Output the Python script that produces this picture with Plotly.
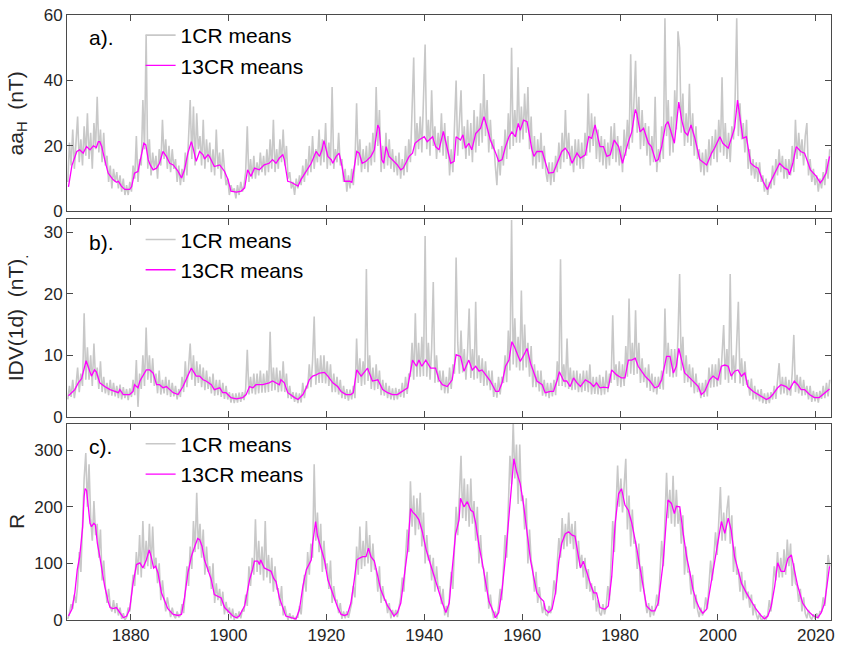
import plotly.graph_objects as go

# ---------------- data ----------------
# 13-rotation running means (year, value)
AA_T = [1867.3,1868.0,1869.0,1869.6,1870.3,1871.0,1871.7,1872.4,1873.0,1873.4,1873.7,1874.1,1874.7,1875.4,1876.4,1877.1,1877.5,1878.1,1878.8,1879.8,
        1880.2,1880.8,1881.5,1882.2,1882.7,1883.1,1883.6,1884.0,1884.6,1885.3,1885.9,1886.6,1887.3,1888.0,1888.7,1889.7,1890.4,1891.0,1891.7,1892.4,
        1892.7,1893.4,1894.1,1894.8,1895.1,1895.8,1896.1,1897.1,1898.2,1899.2,1899.9,1900.5,1901.6,1902.6,1903.3,1903.9,1904.6,1905.3,1906.3,1907.3,
        1908.3,1909.0,1909.7,1910.4,1911.1,1911.4,1912.1,1912.8,1913.8,1914.2,1914.8,1915.9,1916.9,1917.9,1918.6,1919.1,1919.5,1920.3,1921.0,1921.3,
        1922.0,1922.6,1923.2,1923.7,1924.7,1925.2,1926.2,1926.7,1927.3,1928.1,1929.1,1929.8,1930.5,1930.8,1931.3,1931.7,1932.2,1932.8,1933.8,1934.5,
        1935.2,1935.7,1936.2,1936.9,1937.6,1938.1,1938.9,1940.0,1940.6,1941.7,1942.3,1943.0,1943.9,1944.7,1945.4,1946.1,1946.5,1947.4,1947.9,1948.4,
        1949.1,1949.7,1950.5,1951.5,1952.2,1952.7,1953.5,1954.6,1955.2,1955.9,1956.6,1957.3,1957.9,1958.6,1959.2,1959.6,1960.3,1961.0,1962.0,1962.4,
        1963.0,1964.1,1964.7,1965.4,1966.4,1967.1,1967.6,1968.1,1968.8,1969.5,1970.2,1971.2,1971.9,1972.9,1973.6,1974.2,1974.9,1975.9,1976.6,1977.3,
        1978.0,1978.8,1979.7,1980.5,1981.7,1982.4,1983.1,1983.4,1984.1,1984.8,1985.8,1986.4,1987.3,1987.8,1988.5,1989.3,1989.8,1991.1,1992.0,1992.6,
        1993.2,1993.8,1994.5,1995.3,1996.3,1997.7,1998.7,1999.3,2000.4,2001.0,2002.1,2003.4,2004.0,2004.6,2005.1,2005.8,2006.7,2007.5,2008.2,2009.2,
        2010.1,2010.8,2011.6,2012.6,2013.6,2014.3,2014.6,2015.3,2016.0,2016.9,2017.7,2018.9,2020.1,2020.9,2021.4,2022.1,2022.8]
AA_V = [7.5,14,18.3,18.8,17.8,19.8,18.8,20,19.5,21.3,21.3,19.8,15.8,11.7,9.7,8.9,9.2,7.7,6.7,6.7,
        7.5,11.7,12.2,16.8,20.8,20.3,15.8,14.2,12.7,13.2,14.7,18.3,16.8,14.7,14.2,12.2,10.2,12.7,17.8,21.3,
        19.8,15.3,18.3,17.3,16,17.3,16.8,13.7,14.2,12.2,9.7,6.2,5.9,6.2,7.2,12.7,10.7,13.2,12.7,14.2,
        14.7,15.8,14.7,16.3,17.3,15.8,9.2,8.9,8.2,7.7,9.7,12.2,14.7,18.3,16.8,18.8,21.6,16.8,15.8,14.7,
        16.8,17.8,13.7,9.2,9.2,8.9,18.3,17.8,14.7,15.3,16.8,18.8,26.4,25.4,15.8,14.7,19.8,16.8,15.3,14.2,
        12.7,13.2,14.7,16.8,17.8,20.8,21.8,22.8,21.3,22.8,19.8,18.8,24.4,18.8,14.7,15.3,22.8,21.8,23.4,19.3,
        20.8,18.8,23.8,25.4,28.9,26.4,21.8,17.8,15.3,15.8,19.8,22.8,24.3,22.8,26.9,24.8,27.9,27.4,18.8,16.8,
        18.3,18.3,15.3,11.7,11.9,14.7,16.8,18.3,19.3,17.8,14.7,17.8,16.3,17.3,22.8,22.3,26.4,19.8,19.8,16.8,
        17.3,21.8,19.8,14.7,21.3,24.3,31.1,30,24.3,25.4,20.8,19.8,15.3,15.8,19.8,26.4,27.4,20.8,33.4,27.9,
        24.3,23.3,26.4,22.3,15.8,14.2,17.8,19.3,22.8,20.8,19.3,25.4,34.0,27.9,22.3,22.8,14.7,13.7,13.2,9.2,
        6.7,9.2,11.7,14.7,13.2,12.7,11.2,14.7,19.8,18.3,17.8,12.7,10.7,8.7,9.7,11.7,16.8]

IDV_T = [1867.3,1868.6,1869.3,1870.0,1870.9,1871.5,1872.0,1872.6,1873.0,1873.7,1874.7,1875.8,1876.8,1877.5,1877.8,1878.5,1879.8,1880.5,1880.8,1881.5,
         1881.9,1882.5,1883.2,1883.9,1884.6,1885.3,1885.9,1886.6,1887.3,1888.0,1888.7,1889.7,1890.7,1892.4,1893.4,1894.1,1894.8,1895.4,1896.5,1897.1,
         1898.2,1898.8,1899.5,1900.5,1901.6,1902.9,1903.6,1904.3,1905.0,1905.6,1907.0,1908.3,1909.0,1910.4,1910.7,1911.4,1912.1,1913.5,1914.2,1915.2,
         1915.9,1916.5,1917.2,1917.9,1918.6,1919.6,1920.3,1921.3,1922.3,1923.0,1924.0,1925.0,1925.5,1926.2,1927.1,1928.4,1929.4,1930.5,1931.5,1932.5,
         1933.5,1934.5,1935.5,1936.6,1937.6,1938.4,1938.9,1939.5,1940.3,1941.3,1942.3,1943.0,1943.7,1944.7,1945.7,1946.5,1947.4,1948.1,1949.1,1949.8,
         1950.5,1951.2,1951.8,1952.5,1953.5,1954.6,1955.2,1955.9,1956.6,1957.3,1957.9,1958.4,1959.0,1959.6,1960.2,1961.0,1961.7,1962.4,1963.0,1964.1,
         1964.7,1965.8,1966.4,1967.1,1967.6,1968.5,1969.1,1969.8,1970.5,1971.2,1971.9,1972.9,1973.9,1974.6,1975.2,1975.9,1976.6,1977.6,1978.3,1979.3,
         1980.3,1981.0,1981.7,1982.4,1983.1,1983.7,1985.1,1986.1,1987.1,1987.8,1988.5,1989.5,1990.2,1990.9,1991.5,1992.0,1992.6,1993.2,1993.9,1994.9,
         1996.0,1996.6,1997.3,1998.3,1999.0,2000.0,2000.7,2001.4,2002.1,2002.7,2003.4,2004.1,2004.8,2005.5,2006.1,2007.2,2008.2,2009.2,2009.9,2010.6,
         2011.2,2012.2,2012.9,2013.9,2014.6,2015.6,2016.3,2017.0,2017.7,2018.7,2019.7,2020.7,2021.4,2022.1,2022.8]
IDV_V = [3.4,4.4,5.5,6.2,9.1,7.6,6.6,7.6,7.3,5.5,4.9,4.4,4.1,3.9,4.4,3.6,3.6,4.1,5.2,4.7,
         5.8,6.6,7.6,7.6,7.1,5.2,5.2,4.7,4.9,4.4,3.9,3.6,4.9,7.9,6.6,6.6,6.0,5.8,5.2,4.4,
         4.7,3.9,3.9,3.1,2.9,3.1,3.6,4.9,4.7,5.2,5.2,5.5,5.8,5.2,6.0,5.5,3.9,3.1,2.8,3.6,
         4.7,6.0,6.6,6.8,7.1,7.2,6.6,5.5,4.9,4.1,3.6,3.6,3.9,7.6,6.6,7.9,5.8,6.0,4.4,3.9,
         3.6,3.6,4.1,4.7,9.2,8.2,9.2,8.2,9.2,7.9,7.9,6.0,5.2,4.9,6.0,10.1,9.8,7.4,9.2,7.6,
         8.2,7.4,7.6,6.8,5.8,4.1,4.1,5.5,8.2,9.2,12.2,11.4,10.3,9.0,9.8,11.1,8.7,7.1,5.8,5.2,
         3.9,4.1,4.1,5.8,7.3,5.8,5.8,4.9,6.3,5.5,4.9,6.0,5.5,4.9,5.5,4.7,4.8,4.7,7.6,6.8,
         6.3,6.3,9.2,9.2,9.5,8.2,6.6,5.8,4.7,4.9,6.0,9.8,9.8,7.1,8.2,11.1,9.2,7.1,6.6,5.8,
         4.9,3.6,4.1,6.0,6.6,6.0,8.2,8.4,8.2,6.6,7.4,7.6,6.6,7.1,4.9,4.1,3.6,3.1,2.8,3.1,
         3.6,4.7,5.2,4.9,4.4,5.8,5.2,4.4,4.4,3.6,3.1,3.1,3.6,4.1,4.5]

R_T = [1867.3,1868.0,1868.6,1869.1,1869.6,1870.2,1870.5,1870.7,1871.0,1871.3,1871.7,1872.0,1872.5,1872.8,1873.2,1873.7,1874.2,1874.7,1875.4,1875.8,
       1876.4,1877.1,1877.8,1878.5,1879.2,1879.8,1880.5,1881.2,1881.9,1882.5,1883.2,1883.8,1884.2,1884.7,1885.1,1885.6,1886.3,1887.0,1887.6,1888.7,
       1889.7,1890.4,1891.0,1891.7,1892.4,1893.1,1893.7,1894.1,1894.6,1895.1,1895.8,1896.5,1897.1,1897.8,1898.5,1899.2,1900.2,1900.9,1901.6,1902.2,
       1903.3,1904.3,1904.9,1905.3,1906.0,1906.3,1906.6,1907.3,1908.0,1908.7,1909.2,1909.7,1910.4,1911.1,1911.7,1912.8,1913.8,1914.5,1915.2,1915.9,
       1916.2,1916.9,1917.2,1917.8,1918.2,1918.9,1919.6,1920.3,1921.0,1921.6,1922.3,1923.0,1923.7,1924.3,1925.0,1925.7,1926.2,1926.7,1927.4,1928.1,
       1928.6,1929.1,1929.8,1930.5,1931.1,1931.8,1932.5,1933.2,1933.8,1934.5,1935.2,1935.9,1936.6,1937.2,1937.6,1938.3,1938.9,1939.6,1940.3,1941.0,
       1941.7,1942.3,1943.0,1943.7,1944.4,1945.1,1945.7,1946.4,1947.1,1947.4,1948.1,1948.8,1949.5,1950.0,1950.5,1951.2,1951.8,1952.5,1953.2,1954.2,
       1954.5,1955.2,1955.9,1956.6,1957.3,1957.9,1958.3,1958.9,1959.6,1960.3,1961.0,1961.7,1962.4,1963.0,1963.7,1964.4,1964.7,1965.4,1966.1,1966.8,
       1967.5,1968.1,1968.8,1969.5,1970.2,1970.8,1971.2,1971.9,1972.5,1973.2,1973.9,1974.6,1975.2,1975.9,1976.9,1977.6,1978.3,1979.0,1979.7,1980.3,
       1981.0,1981.7,1982.4,1983.4,1984.1,1984.8,1985.4,1986.4,1987.1,1987.8,1988.8,1989.5,1989.8,1990.5,1991.1,1991.5,1992.2,1992.9,1993.6,1994.3,
       1994.9,1995.6,1996.3,1996.9,1997.7,1998.7,1999.7,2000.7,2001.4,2002.1,2002.7,2003.4,2004.1,2004.8,2005.8,2006.8,2007.8,2008.9,2009.5,2010.2,
       2010.9,2011.6,2012.2,2012.9,2013.6,2014.3,2015.0,2015.6,2016.3,2017.3,2018.4,2019.4,2020.4,2021.1,2021.8,2022.8]
R_V = [7,19,48,89,112,165,218,232,229,206,171,165,171,168,136,112,83,60,33,22,
       20,22,13,4,7,19,65,98,101,92,106,124,112,92,95,83,48,33,20,10,
       8,10,39,83,112,130,144,142,130,106,89,71,45,42,39,22,13,7,4,7,
       25,71,89,104,104,98,106,92,89,86,74,68,39,22,7,4,2,19,60,89,
       95,106,136,174,148,127,106,71,54,39,22,10,8,10,30,71,106,109,112,112,
       127,112,104,77,54,39,25,16,7,13,30,77,124,197,191,185,177,156,127,106,
       86,71,48,30,13,30,89,152,177,215,200,209,194,191,171,130,104,65,33,13,
       4,13,54,112,188,258,285,261,241,203,152,106,74,48,39,33,19,13,19,48,
       105,136,152,156,150,148,127,92,104,83,65,48,48,22,19,25,77,171,223,232,
       203,194,171,127,89,54,25,16,16,30,101,182,212,206,188,201,200,153,112,83,
       54,33,19,12,19,71,124,174,153,180,159,112,89,65,48,33,19,7,2,7,
       25,60,101,86,86,109,115,89,60,30,16,8,4,13,30,95]

# 1-rotation means, three values per year starting 1867
GRAY_T0 = 1867.17
GRAY_STEP = 1.0 / 3.0
GRAY_AA = [
 9,21,14, 25,13,22, 29,15,22, 14,26,17, 30,16,24,
 13,27,19, 35,18,25, 15,24,14, 17,9,14, 7,13,9,
 12,7,11, 6,10,5, 8,5,9, 6,14,10, 23,9,16,
 14,34,19, 54,13,22, 11,18,13, 17,10,19, 14,28,16,
 22,13,20, 12,19,13, 16,9,14, 8,13,9, 18,11,22,
 34,16,32, 14,30,19, 23,14,28, 13,22,15, 21,12,19,
 11,25,13, 18,10,19, 13,8,10, 5,8,6, 7,4,8,
 5,9,6, 8,12,26, 9,16,10, 17,10,15, 11,18,12,
 17,11,19, 12,22,13, 28,12,19, 13,22,15, 25,14,20,
 10,12,7, 9,5,10, 7,11,8, 14,9,16, 11,20,12,
 23,13,19, 15,25,14, 22,15,27, 13,21,14, 38,13,19,
 15,24,14, 16,9,13, 6,11,7, 13,8,15, 33,14,22,
 12,19,13, 20,12,21, 14,24,15, 38,20,31, 12,20,13,
 24,14,22, 13,19,12, 17,11,18, 10,16,11, 20,12,22,
 15,28,47, 17,27,19, 29,18,33, 51,19,28, 17,37,20,
 26,16,24, 18,30,17, 27,16,23, 11,19,12, 24,40,17,
 30,37,19, 26,16,28, 17,27,15, 31,18,29, 20,33,21,
 42,23,34, 18,28,19, 22,14,8, 19,11,20, 14,25,16,
 30,19,50, 20,31,21, 44,21,32, 22,36,24, 38,19,29,
 14,23,13, 22,15,24, 13,20,12, 9,15,8, 15,9,17,
 12,21,13, 24,15,31, 16,24,14, 20,12,22, 14,22,13,
 21,13,24, 17,36,18, 30,20,29, 16,25,15, 23,14,22,
 13,21,14, 26,16,27, 15,23,14, 20,12,25, 17,28,19,
 48,21,34, 46,24,35, 19,31,20, 27,17,26, 14,23,15,
 35,12,19, 15,26,16, 59,23,34, 17,29,18, 37,25,55,
 50,24,36, 20,30,21, 39,20,30, 17,26,16, 19,12,18,
 11,19,12, 22,14,23, 16,25,15, 28,18,41, 17,27,16,
 24,15,26, 22,34,59, 23,33,22, 27,18,28, 13,19,11,
 16,10,15, 9,15,9, 11,6,10, 5,9,7, 14,8,16,
 11,19,12, 17,10,16, 10,16,11, 20,12,28, 16,24,17,
 22,14,23, 27,11,16, 9,13,8, 11,6,10, 7,12,8,
 16,10,19,
]
GRAY_IDV = [
 2.8,5,3.2, 6,3,5, 8,4,7, 5,16.8,6, 11.3,6,10,
 5,11.9,6, 8,4.5,9, 4,6.5,3.8, 5.5,3.5,6, 3.4,5.5,3.3,
 5,3,5.2, 2.8,4.8,3, 4.5,2.7,4.6, 3.2,6,3.5, 9.2,1.6,7,
 4.5,10,5, 14.5,6,10, 5.5,9.5,5, 7,3.8,7.5, 3.6,6,3.8,
 6.5,3.5,6, 3.2,5.5,3.3, 5,2.8,4.5, 3.2,6.5,4, 9,4.8,8,
 11.9,6,10, 5,9,5.5, 8.5,4.8,8, 4.3,7.5,4.5, 6.5,3.8,7,
 3.4,6,3.5, 6,3.2,5.5, 2.9,5,2.8, 4,2.3,3.8, 2.2,3.8,2.3,
 3.9,2.4,4, 2.7,4.5,10.9, 3.6,6.5,3.8, 7,3.6,7, 3.8,7.5,3.9,
 7,3.9,7.5, 4,13.8,4.2, 8,4.3,8, 4,7.5,4.1, 9,4,7,
 3,5,2.9, 4,2.4,3.9, 2.2,3.8,2.3, 5.5,3,5, 4.6,8.5,4.8,
 9,16.3,5.2, 9.5,5.5,10, 5.5,10,5.4, 9,5,8.5, 4,7,4,
 6.5,3.6,6, 3,5,2.9, 4.5,2.6,4.4, 2.8,5,3, 12.7,5.5,9.5,
 5,9,5.2, 24,5.8,10, 4.5,8,4.3, 8.5,4.5,7.5, 3.5,6,3.4,
 5.5,3,5, 2.8,4.6,2.7, 4.7,2.8,4.5, 3.2,5.5,3.1, 6.5,3.7,7,
 6.5,12,6, 16.8,6.5,12, 6.5,13,6.6, 29.4,6.5,12, 6,11,21.9,
 5.5,10,5.6, 7.5,4.3,7.5, 3.8,6.5,3.8, 8,4.5,8.5, 7,25.9,12,
 7,14,7.2, 11,6,10.5, 17.6,6.3,11, 6,18.7,6.2, 10,5.5,9.5,
 5,9,5.1, 7.5,4.3,7.5, 3.2,5.5,3.1, 6.5,3.6,6.5, 5.5,10,5.6,
 14,7.5,32, 8.5,16,8, 13,7.5,20.5, 7.5,15,8, 12,6.5,11.5,
 4.8,8.5,4.8, 7.5,4.1,7.5, 3.4,6,3.3, 5.5,3,5.5, 3.3,6,3.5,
 9,5,25.6, 5,8.5,4.8, 12.7,4.5,8, 4.3,7.5,4.4, 7.5,4,7,
 4,7.5,4.2, 7.5,4,8.5, 3.6,6.5,3.7, 6.5,3.6,6.8, 3.5,6.5,3.6,
 7.5,4,7, 5.5,16.5,6, 8.5,5,9, 4.8,8.5,5, 11.5,6.5,19.2,
 7,12,6.8, 17.3,7,12, 5.5,9.5,5.6, 8,4.7,8.5, 4.2,7,4,
 6.5,3.6,6.5, 4.5,7.5,4.4, 17.6,7,12, 6.5,11,6.4, 11,6.5,13,
 23.2,7.5,13, 5.5,10,5.6, 8.5,4.8,8, 3.8,7,4, 5.5,3,5.5,
 3.2,6,3.3, 8,4.7,8.5, 4.8,8.5,4.9, 9.5,5.2,10, 14.9,6,11,
 5.5,23.2,6, 10,5.5,12, 18.7,5.4,9.5, 5,9,5.2, 6,3.4,6.2,
 2.8,5,2.8, 4.4,2.5,4.5, 2.2,3.8,2.1, 3.9,2.2,4, 2.8,5,2.9,
 6.5,8.7,3.6, 6.5,3.8,6.5, 3.5,6,3.4, 7,13.3,4, 6.8,3.8,6.5,
 3.4,6,3.5, 5,2.8,5, 2.4,4.2,2.5, 4,2.3,4.2, 2.9,5,3,
 5.5,3.3,6,
]
GRAY_R = [
 2,12,28, 20,45,30, 60,120,85, 180,250,295, 200,275,180,
 140,210,150, 170,110,160, 70,105,60, 30,55,25, 15,35,12,
 30,8,22, 2,12,0, 5,22,15, 45,80,60, 120,80,150,
 75,175,90, 140,95,170, 90,165,95, 110,65,100, 35,70,40,
 15,40,20, 5,22,8, 3,15,5, 8,28,12, 50,95,60,
 130,90,175, 120,225,125, 170,110,160, 80,130,85, 95,55,100,
 30,65,35, 55,25,50, 10,32,12, 22,3,20, 0,12,2,
 15,3,18, 15,45,25, 95,60,110, 80,178,85, 140,80,130,
 70,175,75, 115,65,110, 50,95,55, 55,25,60, 8,25,10,
 0,12,2, 8,0,5, 5,25,10, 45,80,50, 120,80,135,
 110,275,140, 190,120,170, 85,140,90, 100,55,105, 30,60,35,
 35,12,30, 2,15,3, 15,4,20, 30,60,40, 130,80,165,
 90,140,95, 175,100,150, 85,135,90, 90,50,95, 30,60,35,
 35,12,30, 3,18,5, 18,5,22, 40,75,50, 110,160,120,
 245,165,220, 150,215,160, 225,130,190, 100,150,105, 115,70,110,
 50,95,55, 60,28,55, 8,25,5, 40,85,55, 130,200,150,
 230,290,180, 250,175,240, 165,250,170, 210,140,200, 100,150,95,
 90,50,85, 20,45,18, 3,15,2, 25,55,35, 95,150,110,
 220,290,240, 350,250,310, 205,310,210, 220,160,215, 100,160,105,
 90,50,85, 30,58,32, 12,30,10, 8,25,12, 35,70,45,
 100,145,110, 180,125,170, 130,190,135, 170,125,175, 90,140,95,
 115,75,110, 55,90,50, 65,35,60, 15,35,12, 8,28,10,
 25,60,35, 110,175,120, 190,273,200, 250,190,240, 285,160,220,
 130,195,135, 140,90,135, 50,95,55, 35,12,30, 5,25,8,
 20,45,25, 85,140,95, 175,260,180, 230,170,255, 165,230,170,
 195,135,185, 80,130,85, 85,45,80, 20,45,18, 5,22,8,
 15,40,20, 60,105,70, 110,155,115, 185,235,140, 190,140,195,
 220,135,185, 85,130,80, 90,50,85, 35,70,38, 50,22,45,
 8,28,10, 1,12,0, 2,8,1, 10,35,15, 55,95,70,
 120,75,110, 75,125,80, 142,95,135, 60,100,65, 60,32,55,
 15,40,12, 3,18,5, 1,10,2, 12,3,15, 15,40,25,
 60,115,95,
]

X_TICKS = [1880, 1900, 1920, 1940, 1960, 1980, 2000, 2020]
AA_TICKS = [0, 20, 40, 60]
IDV_TICKS = [0, 10, 20, 30]
R_TICKS = [0, 100, 200, 300]

PANELS = [
    ("a).", "aa<sub>H</sub>\u00a0\u00a0(nT)", GRAY_AA, AA_T, AA_V, [0, 60], AA_TICKS),
    ("b).", "IDV(1d)\u00a0\u00a0(nT)<sub>.</sub>", GRAY_IDV, IDV_T, IDV_V, [0, 32.1], IDV_TICKS),
    ("c).", "R", GRAY_R, R_T, R_V, [0, 347], R_TICKS),
]

# ---------------- figure ----------------
FONT = "Liberation Sans, Arial, Helvetica, sans-serif"
AXC = "#4a4a4a"
GRAY = "#c8c8c8"
MAGENTA = "#ff00ff"

W, H = 841, 651
ML, MR, MT, MB = 67, 6, 14, 27
PW, PH = W - ML - MR, H - MT - MB

def py(px):  # page pixel y -> paper fraction
    return (H - MB - px) / PH

def px_(p):  # page pixel x -> paper fraction
    return (p - ML) / PW

# panel pixel extents (top, bottom)
EXT = [(14, 212), (220, 419), (426, 624)]

fig = go.Figure()
legend_names = ["legend", "legend2", "legend3"]
for k, (lab, ytitle, gray, mt, mv, yr, yt) in enumerate(PANELS):
    sx = "" if k == 0 else str(k + 1)
    gx = [GRAY_T0 + i * GRAY_STEP for i in range(len(gray))]
    fig.add_trace(go.Scatter(x=gx, y=gray, mode="lines", name="1CR means",
                             line=dict(color=GRAY, width=1.6),
                             xaxis="x" + sx, yaxis="y" + sx, legend=legend_names[k]))
    fig.add_trace(go.Scatter(x=mt, y=mv, mode="lines", name="13CR means",
                             line=dict(color=MAGENTA, width=1.3),
                             xaxis="x" + sx, yaxis="y" + sx, legend=legend_names[k]))
    top, bot = EXT[k]
    axis_common = dict(showline=True, linecolor=AXC, linewidth=1, mirror="ticks",
                       ticks="inside", ticklen=6, tickcolor=AXC, tickwidth=1,
                       showgrid=False, zeroline=False,
                       tickfont=dict(family=FONT, size=17, color="#262626"))
    fig.layout["xaxis" + sx] = dict(axis_common, domain=[0, 1], range=[1867.0, 2023.1],
                                    tickvals=X_TICKS, anchor="y" + sx,
                                    showticklabels=(k == 2),
                                    matches=None if k == 2 else "x3")
    fig.layout["yaxis" + sx] = dict(axis_common, domain=[py(bot), py(top)], range=yr,
                                    tickvals=yt, anchor="x" + sx)
    # panel label
    fig.add_annotation(text=lab, xref="paper", yref="paper", x=px_(87), y=py(top + 23),
                       xanchor="left", yanchor="middle", showarrow=False,
                       font=dict(family=FONT, size=21, color="#000000"))
    # y-axis title
    fig.add_annotation(text=ytitle, xref="paper", yref="paper", x=px_(17),
                       y=py((top + bot) / 2), xanchor="center", yanchor="middle",
                       textangle=-90, showarrow=False,
                       font=dict(family=FONT, size=21, color="#262626"))
    fig.layout[legend_names[k]] = dict(x=px_(141), y=py(top), xanchor="left", yanchor="top",
                                       bgcolor="rgba(0,0,0,0)", borderwidth=0,
                                       font=dict(family=FONT, size=21, color="#000000"),
                                       itemwidth=30, tracegroupgap=0)

fig.update_layout(width=W, height=H, margin=dict(l=ML, r=MR, t=MT, b=MB),
                  paper_bgcolor="white", plot_bgcolor="white", showlegend=True)

fig.write_html("out.html")
